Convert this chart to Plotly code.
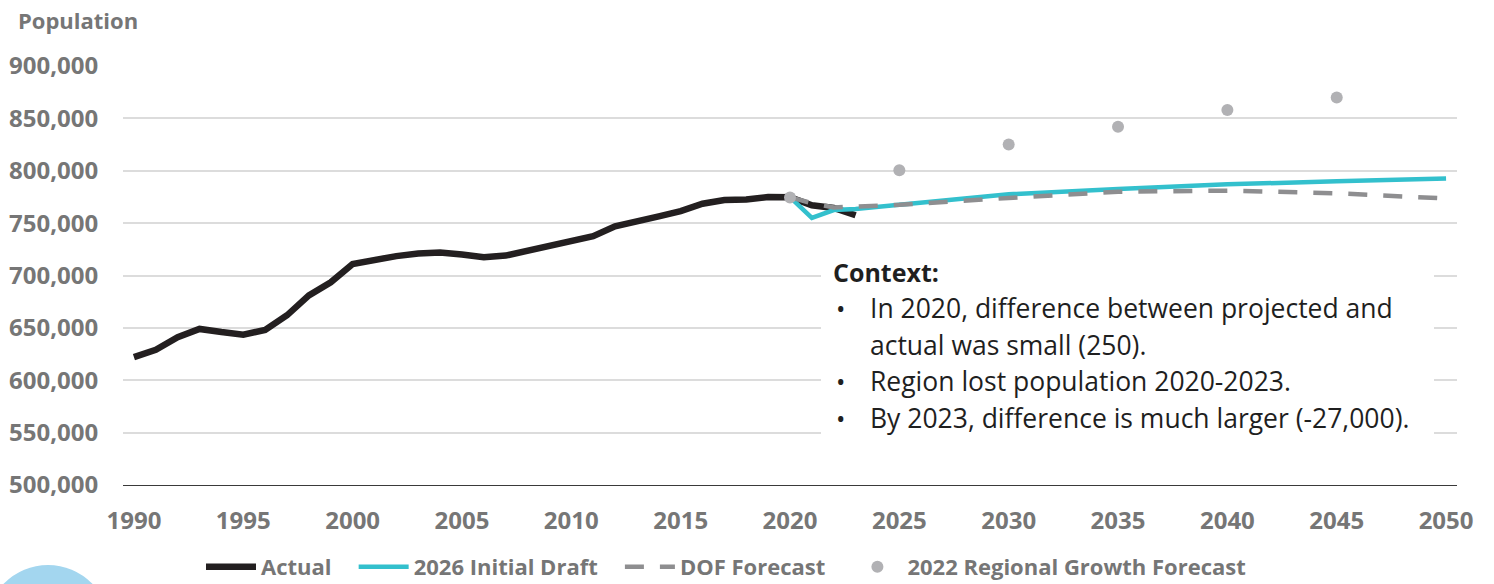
import plotly.graph_objects as go

# ---- data ----
actual_years = list(range(1990, 2024))
actual_pop = [622000, 629000, 641000, 649000, 646000, 643500, 648000, 662000, 681000, 693500,
              711000, 715000, 718500, 721000, 722000, 720000, 717500, 719000, 724000, 728500,
              733000, 737500, 747000, 752500, 756500, 761500, 768500, 772000, 772500, 775000,
              774750, 767000, 764500, 757500]

draft_years = [2020, 2021, 2022, 2023, 2025, 2030, 2035, 2040, 2045, 2050]
draft_pop = [774750, 755000, 762500, 763500, 767500, 777500, 782500, 787000, 790000, 792500]

dof_years = [2020, 2021, 2022, 2023, 2025, 2030, 2035, 2040, 2045, 2050]
dof_pop = [774750, 769000, 765000, 765500, 767500, 774000, 780000, 781000, 778500, 773500]

rgf_years = [2020, 2025, 2030, 2035, 2040, 2045]
rgf_pop = [774500, 800500, 825000, 842000, 858000, 870000]

x_ticks = list(range(1990, 2051, 5))
y_ticks = list(range(500000, 900001, 50000))

series_names = ["Actual", "2026 Initial Draft", "DOF Forecast", "2022 Regional Growth Forecast"]

context_title = "Context:"
context_lines = [
    ("•", "In 2020, difference between projected and"),
    ("", "actual was small (250)."),
    ("•", "Region lost population 2020-2023."),
    ("•", "By 2023, difference is much larger (-27,000)."),
]

# ---- layout geometry (pixels) ----
W, H = 1494, 584
L, R, T, B = 123, 37, 66, 99
PW, PH = W - L - R, H - T - B

def px(xp):
    return (xp - L) / PW

def py(yp):
    return (T + PH - yp) / PH

GRAY = "#767676"
FONT = "Open Sans"
SP = "\u00a0" * 3

fig = go.Figure()
fig.add_trace(go.Scatter(x=actual_years, y=actual_pop, mode="lines", name=series_names[0] + SP,
                         line=dict(color="#231f20", width=6.5)))
fig.add_trace(go.Scatter(x=draft_years, y=draft_pop, mode="lines", name=series_names[1] + SP,
                         line=dict(color="#33c0cd", width=4.5)))
fig.add_trace(go.Scatter(x=dof_years, y=dof_pop, mode="lines", name=series_names[2] + SP,
                         line=dict(color="#8e8e90", width=4.5, dash="19px,16px")))
fig.add_trace(go.Scatter(x=rgf_years, y=rgf_pop, mode="markers", name=series_names[3],
                         marker=dict(color="#b1b1b4", size=12)))

# white box behind context text
fig.add_shape(type="rect", xref="paper", yref="paper",
              x0=px(821), x1=px(1434), y0=py(446), y1=py(252),
              fillcolor="white", line=dict(width=0), layer="above")

# logo hint bottom-left
fig.add_shape(type="circle", xref="paper", yref="paper",
              x0=px(-14), x1=px(110), y0=py(690), y1=py(565),
              fillcolor="#a3d6ef", line=dict(width=0), layer="above")

TXT = "#1f1f1f"
fig.add_annotation(xref="paper", yref="paper", x=px(831), y=py(272), xanchor="left", yanchor="middle",
                   text="<b>" + context_title + "</b>", showarrow=False,
                   font=dict(family=FONT, size=25, color=TXT))
line_y = [308, 345, 381, 418]
for (bul, txt), yy in zip(context_lines, line_y):
    if bul:
        fig.add_annotation(xref="paper", yref="paper", x=px(834), y=py(yy), xanchor="left",
                           yanchor="middle", text=bul, showarrow=False,
                           font=dict(family=FONT, size=25, color=TXT))
    fig.add_annotation(xref="paper", yref="paper", x=px(868), y=py(yy), xanchor="left",
                       yanchor="middle", text=txt, showarrow=False,
                       font=dict(family=FONT, size=26.5, color=TXT))

fig.add_annotation(xref="paper", yref="paper", x=px(16), y=py(20), xanchor="left", yanchor="middle",
                   text="<b>Population</b>", showarrow=False,
                   font=dict(family=FONT, size=22, color=GRAY))

fig.update_layout(
    width=W, height=H,
    margin=dict(l=L, r=R, t=T, b=B, pad=0, autoexpand=False),
    paper_bgcolor="white", plot_bgcolor="white",
    font=dict(family=FONT, color=GRAY),
    showlegend=True,
    legend=dict(orientation="h", x=px(726), xanchor="center", y=py(588), yanchor="bottom",
                font=dict(family=FONT, size=22, color=GRAY, weight="bold"),
                itemwidth=50, tracegroupgap=0, bgcolor="rgba(0,0,0,0)"),
    xaxis=dict(range=[1989.5, 2050.5], tickmode="array", tickvals=x_ticks,
               ticktext=[str(v) for v in x_ticks], showgrid=False, zeroline=False,
               showline=True, linecolor="#3a3a3a", linewidth=1,
               ticks="outside", ticklen=14, tickcolor="rgba(0,0,0,0)",
               tickfont=dict(family=FONT, size=24, color=GRAY, weight="bold")),
    yaxis=dict(range=[500000, 900000], tickmode="array", tickvals=y_ticks,
               ticktext=[f"{v:,}" for v in y_ticks], showgrid=True, gridcolor="#dcdcdc",
               gridwidth=1.5, zeroline=False, showline=False,
               ticks="outside", ticklen=19, tickcolor="rgba(0,0,0,0)",
               tickfont=dict(family=FONT, size=24, color=GRAY, weight="bold")),
)

fig.write_html("out.html", config={"displayModeBar": False},
               post_script="document.body.style.margin='0';document.body.style.overflow='hidden';")
